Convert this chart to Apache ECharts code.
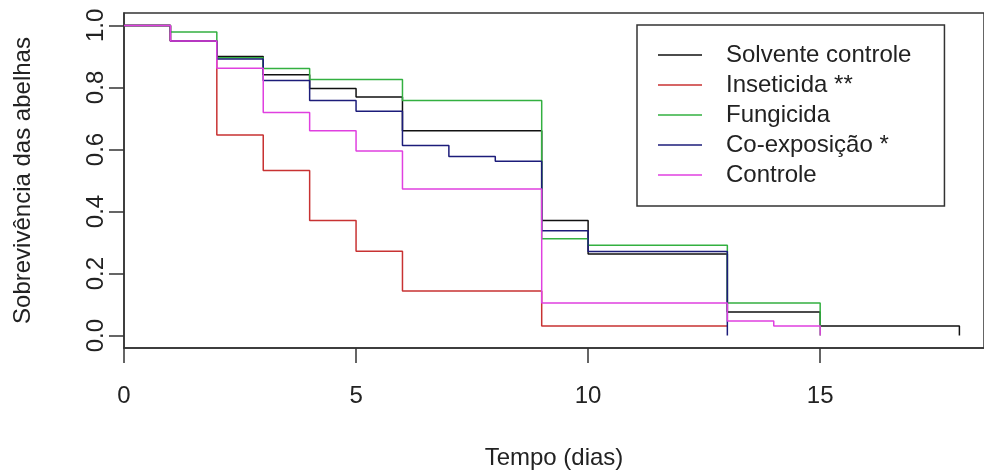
<!DOCTYPE html>
<html>
<head>
<meta charset="utf-8">
<script src="https://cdn.jsdelivr.net/npm/echarts@6/dist/echarts.min.js"></script>
<style>
html,body{margin:0;padding:0;background:#fff;}
#c{width:984px;height:475px;}
</style>
</head>
<body>
<div id="c"></div>
<script>
// Kaplan-Meier step data (time in days, survival proportion)
const seriesNames = ['Solvente controle', 'Inseticida **', 'Fungicida', 'Co-exposição *', 'Controle'];
const seriesColors = ['#111111', '#c83232', '#33b040', '#1c1c7a', '#e040e0'];

const solventeT = [0, 1, 2, 3, 4, 5, 6, 9, 10, 13, 15, 18];
const solventeV = [1, 0.95, 0.90, 0.841, 0.797, 0.769, 0.660, 0.371, 0.263, 0.076, 0.031, 0];

const inseticidaT = [0, 1, 2, 3, 4, 5, 6, 9, 13];
const inseticidaV = [1, 0.95, 0.647, 0.532, 0.371, 0.272, 0.144, 0.031, 0.031];

const fungicidaT = [0, 1, 2, 3, 4, 6, 9, 10, 13, 15];
const fungicidaV = [1, 0.979, 0.896, 0.861, 0.826, 0.758, 0.312, 0.291, 0.105, 0];

const coexpT = [0, 1, 2, 3, 4, 5, 6, 7, 8, 9, 10, 13];
const coexpV = [1, 0.95, 0.892, 0.822, 0.758, 0.723, 0.613, 0.577, 0.562, 0.338, 0.271, 0];

const controleT = [0, 1, 2, 3, 4, 5, 6, 9, 13, 14, 15];
const controleV = [1, 0.95, 0.862, 0.719, 0.660, 0.595, 0.473, 0.105, 0.047, 0.031, 0];

const xTicks = [0, 5, 10, 15];
const yTicks = [0, 0.2, 0.4, 0.6, 0.8, 1.0];

const allT = [solventeT, inseticidaT, fungicidaT, coexpT, controleT];
const allV = [solventeV, inseticidaV, fungicidaV, coexpV, controleV];

const FONT = '"Liberation Sans", Arial, sans-serif';
const chart = echarts.init(document.getElementById('c'), null, {renderer: 'canvas'});

const series = seriesNames.map((name, i) => ({
  name: name,
  type: 'line',
  step: 'end',
  symbol: 'none',
  data: allT[i].map((t, k) => [t, allV[i][k]]),
  lineStyle: {color: seriesColors[i], width: 1.5},
  itemStyle: {color: seriesColors[i]},
  emphasis: {disabled: true},
  animation: false
}));

chart.setOption({
  animation: false,
  grid: {
    left: 124, top: 13, right: -4, bottom: 120,
    show: true, borderColor: '#333', borderWidth: 1.5, backgroundColor: 'transparent'
  },
  legend: {
    orient: 'vertical',
    left: 637, top: 25,
    width: 305,
    padding: [18, 33, 19, 21],
    itemGap: 6,
    itemWidth: 44,
    itemHeight: 1.6,
    icon: 'rect',
    borderColor: '#333', borderWidth: 1.5,
    selectedMode: false,
    textStyle: {fontFamily: FONT, fontSize: 24, color: '#222', padding: [0, 0, 0, 19], lineHeight: 24},
    data: seriesNames
  },
  xAxis: {
    type: 'value',
    min: 0, max: 18.53,
    name: 'Tempo (dias)',
    nameLocation: 'middle',
    nameGap: 98,
    nameTextStyle: {fontFamily: FONT, fontSize: 24, color: '#222'},
    axisLine: {show: true, onZero: false, lineStyle: {color: '#333', width: 1.5}},
    axisTick: {show: true, length: 15, lineStyle: {color: '#333', width: 1.5}, customValues: xTicks},
    axisLabel: {fontFamily: FONT, fontSize: 24, color: '#222', margin: 36, customValues: xTicks,
      formatter: v => String(v)},
    splitLine: {show: false}
  },
  yAxis: {
    type: 'value',
    min: -0.04, max: 1.04,
    name: 'Sobrevivência das abelhas',
    nameLocation: 'middle',
    nameGap: 89,
    nameRotate: 90,
    nameTextStyle: {fontFamily: FONT, fontSize: 24, color: '#222'},
    axisLine: {show: true, onZero: false, lineStyle: {color: '#333', width: 1.5}},
    axisTick: {show: true, length: 15, lineStyle: {color: '#333', width: 1.5}, customValues: yTicks},
    axisLabel: {fontFamily: FONT, fontSize: 24, color: '#222', margin: 16, rotate: 90, customValues: yTicks,
      formatter: v => v.toFixed(1)},
    splitLine: {show: false}
  },
  series: series
});
</script>
</body>
</html>
